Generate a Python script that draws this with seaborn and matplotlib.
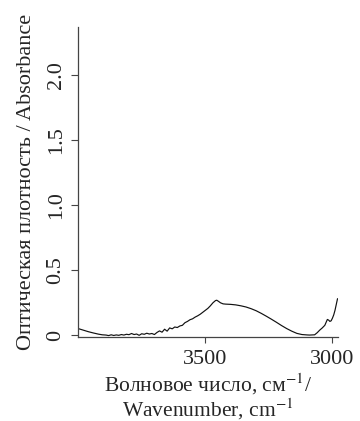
import seaborn as sns
import matplotlib.pyplot as plt
import pandas as pd

# wavenumber (cm-1) and absorbance
wavenumber = [4000, 3980, 3960, 3940, 3920, 3905, 3890, 3880, 3870, 3860,
              3850, 3840, 3830, 3820, 3810, 3800, 3790, 3780, 3770, 3760,
              3750, 3740, 3730, 3720, 3710, 3700, 3690, 3680, 3670, 3660,
              3650, 3640, 3630, 3620, 3610, 3600, 3590, 3580, 3570, 3560,
              3550, 3540, 3530, 3520, 3510, 3500, 3490, 3480, 3470, 3460,
              3455, 3450, 3440, 3430, 3420, 3400, 3380, 3360, 3340, 3320,
              3300, 3280, 3260, 3240, 3220, 3200, 3180, 3160, 3140, 3120,
              3100, 3090, 3080, 3070, 3060, 3050, 3040, 3030, 3020, 3015,
              3010, 3005, 3000, 2995, 2990, 2985, 2980]
absorbance = [0.05, 0.038, 0.026, 0.016, 0.007, 0.002, 0.0, -0.004, 0.002, -0.003,
              0.001, -0.002, 0.004, 0.0, 0.006, 0.003, 0.012, 0.004, 0.008, -0.002,
              0.01, 0.006, 0.014, 0.008, 0.012, 0.004, 0.02, 0.032, 0.022, 0.045,
              0.03, 0.055, 0.048, 0.062, 0.058, 0.07, 0.075, 0.095, 0.105, 0.118,
              0.125, 0.138, 0.148, 0.16, 0.175, 0.19, 0.205, 0.225, 0.248, 0.265,
              0.268, 0.262, 0.248, 0.24, 0.238, 0.236, 0.232, 0.225, 0.216, 0.203,
              0.187, 0.167, 0.145, 0.122, 0.098, 0.073, 0.05, 0.03, 0.013, 0.004,
              0.001, 0.0, 0.001, 0.002, 0.018, 0.038, 0.055, 0.075, 0.12, 0.115,
              0.105, 0.11, 0.13, 0.155, 0.19, 0.235, 0.28]

x_ticks = [3500, 3000]
y_ticks = [0, 0.5, 1.0, 1.5, 2.0]
y_tick_labels = ["0", "0.5", "1.0", "1.5", "2.0"]

df = pd.DataFrame({"wn": wavenumber, "A": absorbance})

sns.set_style("ticks")
plt.rcParams["font.family"] = ["Liberation Serif", "DejaVu Serif"]
plt.rcParams["mathtext.fontset"] = "stix"

fig = plt.figure(figsize=(3.6, 4.21), dpi=100)
ax = fig.add_axes([0.217, 0.1995, 0.722, 0.7365])

sns.lineplot(data=df, x="wn", y="A", sort=False, color="#111111",
             linewidth=0.85, ax=ax)

ax.set_xlim(4000, 2978)
ax.set_ylim(-0.015, 2.37)
ax.set_xticks(x_ticks)
ax.set_xticklabels([str(t) for t in x_ticks], fontsize=16)
ax.set_yticks(y_ticks)
ax.set_yticklabels(y_tick_labels, fontsize=16, rotation=90, va="center")
ax.tick_params(axis="y", length=5, width=0.8, color="#444444", pad=4)
ax.tick_params(axis="x", length=4, width=0.8, color="#444444", pad=5)

for side in ["top", "right"]:
    ax.spines[side].set_visible(False)
for side in ["left", "bottom"]:
    ax.spines[side].set_color("#444444")
    ax.spines[side].set_linewidth(0.9)

ax.set_xlabel("Волновое число, см$^{-1}$/\nWavenumber, cm$^{-1}$",
              fontsize=15.5, linespacing=1.0, labelpad=2)
ax.set_ylabel("Оптическая плотность / Absorbance", fontsize=16, labelpad=8)

fig.savefig("out.png", dpi=100)
